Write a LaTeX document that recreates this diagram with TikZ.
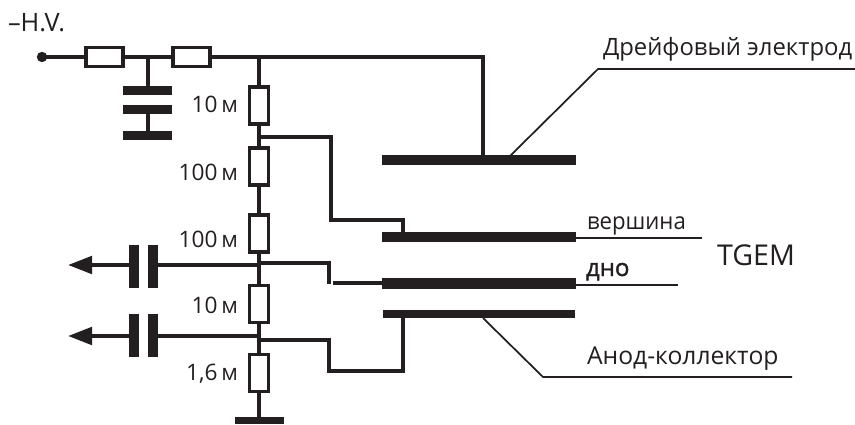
\documentclass[tikz,border=0pt]{standalone}
\usepackage{fontspec}
\setmainfont{Open Sans}
\usetikzlibrary{arrows.meta}
\definecolor{ink}{HTML}{231F20}
\newcommand{\fsz}[1]{\fontsize{#1pt}{#1pt}\selectfont}
\tikzset{
  x=0.75pt,y=-0.75pt,
  wire/.style={draw=ink,line width=3pt,line join=miter},
  wirethin/.style={draw=ink,line width=2.5pt,line join=miter},
  leader/.style={draw=ink,line width=1.3pt},
  resv/.style={draw=ink,fill=white,line width=2.6pt,minimum width=14.2pt,minimum height=27.5pt,inner sep=0pt,outer sep=0pt},
  resh/.style={draw=ink,fill=white,line width=2.6pt,minimum width=27.5pt,minimum height=14.2pt,inner sep=0pt,outer sep=0pt},
  plate/.style={fill=ink,draw=none,inner sep=0pt,outer sep=0pt,minimum width=#1*0.75pt},
  lab/.style={text=ink,font=\fsz{17},inner sep=0pt,outer sep=0pt},
}
\begin{document}
\begin{tikzpicture}
\useasboundingbox (0,0) rectangle (855,424);
% coordinates
\coordinate (hv) at (42,57);
\coordinate (capj) at (148,57);
\coordinate (j0) at (259,57);
\coordinate (drj) at (483,57);
\coordinate (j1) at (259,137);
\coordinate (j2) at (259,265);
\coordinate (j3) at (259,339);
\coordinate (a1) at (331,137);
\coordinate (a2) at (331,220);
\coordinate (a3) at (403,220);
\coordinate (b0) at (259,263);
\coordinate (b1) at (329,263);
\coordinate (b2) at (329,284);
\coordinate (b3) at (333,283);
\coordinate (c1) at (329,340);
\coordinate (c2) at (329,371);
\coordinate (c3) at (403,371);
\coordinate (j3l) at (259,336);
% plates
\node[plate=194,minimum height=7.5pt] (drift) at (479,160) {};
\node[plate=194,minimum height=7.5pt] (top) at (479,237) {};
\node[plate=194,minimum height=8.2pt] (bot) at (479,283.5) {};
\node[plate=192,minimum height=6.2pt] (anode) at (479,314) {};
\node[plate=49,minimum height=6.8pt] (cp1) at (147.5,90.5) {};
\node[plate=49,minimum height=6.8pt] (cp2) at (147.5,109.5) {};
\node[plate=49,minimum height=6.8pt] (cp3) at (147.5,135.5) {};
\node[plate=49,minimum height=5.5pt] (gnd) at (259.5,420.5) {};
\node[plate=10.5,minimum height=32pt] (c1l) at (134,266.5) {};
\node[plate=10.5,minimum height=32pt] (c1r) at (153,266.5) {};
\node[plate=10.5,minimum height=32pt] (c2l) at (134,335.5) {};
\node[plate=10.5,minimum height=32pt] (c2r) at (153,335.5) {};
% wires
\draw[wire] (hv) -- (drj) -- (drj |- drift.north);
\draw[wire] (capj) -- (cp1.north -| capj);
\draw[wire] (cp2.south -| capj) -- (cp3.north -| capj);
\draw[wire] (j0) -- (j0 |- gnd.north);
\draw[wirethin] (j1) -- (a1) -- (a2) -- (a3) -- (a3 |- top.north);
\draw[wirethin] (b0) -- (b1) -- (b2);
\draw[wirethin] (b3) -- (bot.west |- b3);
\draw[wirethin] (j3 |- c1) -- (c1) -- (c2) -- (c3) -- (c3 |- anode.south);
\draw[wire] (j2) -- (c1r.east |- j2);
\draw[wire] (j3l) -- (c2r.east |- j3l);
\coordinate (t1) at (68,265);
\coordinate (t2) at (68,336);
\draw[wire,-{Triangle[length=18pt,width=13pt]}] (c1l.west |- t1) -- (t1);
\draw[wire,-{Triangle[length=18pt,width=13pt]}] (c2l.west |- t2) -- (t2);
\fill[ink] (hv) circle (3.9pt);
% resistors
\node[resh] (r1) at (104.5,57) {};
\node[resh] (r2) at (191.5,57) {};
\node[resv] (r3) at (259,105.5) {};
\node[resv] (r4) at (259,166.5) {};
\node[resv] (r5) at (259,233.5) {};
\node[resv] (r6) at (259,304) {};
\node[resv] (r7) at (259,373) {};
% leaders
\coordinate (d1) at (510,156);
\coordinate (d2) at (598,69);
\coordinate (d3) at (855,69);
\draw[leader] (d1) -- (d2) -- (d3);
\coordinate (e1) at (483,318);
\coordinate (e2) at (543,377);
\coordinate (e3) at (792,377);
\draw[leader] (e1) -- (e2) -- (e3);
\coordinate (f1) at (702,238);
\draw[leader] (top.east |- f1) -- (f1);
\coordinate (g1) at (678,285);
\draw[leader] (bot.east |- g1) -- (g1);
% labels
\node[lab,anchor=base west,font=\fsz{19}] (hvl) at (8,32) {–H.V.};
\node[lab,anchor=base east] (l1) at (238,113) {10\,м};
\node[lab,anchor=base east] (l2) at (238,180) {100\,м};
\node[lab,anchor=base east] (l3) at (238,247) {100\,м};
\node[lab,anchor=base east] (l4) at (238,313) {10\,м};
\node[lab,anchor=base east] (l5) at (238,380) {1,6\,м};
\node[lab,anchor=base west,font=\fsz{17.9}] (t1l) at (603,56) {Дрейфовый электрод};
\node[lab,anchor=base west,font=\fsz{17.6}\addfontfeature{FakeStretch=0.945}] (t2l) at (587,229) {вершина};
\node[lab,anchor=base west,font=\fsz{18}\addfontfeature{FakeBold=1.6}] (t3l) at (586,276) {дно};
\node[lab,anchor=base west,font=\fsz{21.5}] (t4l) at (717,265) {TGEM};
\node[lab,anchor=base west,font=\fsz{18.5}] (t5l) at (587,364) {Анод-коллектор};
\end{tikzpicture}
\end{document}
